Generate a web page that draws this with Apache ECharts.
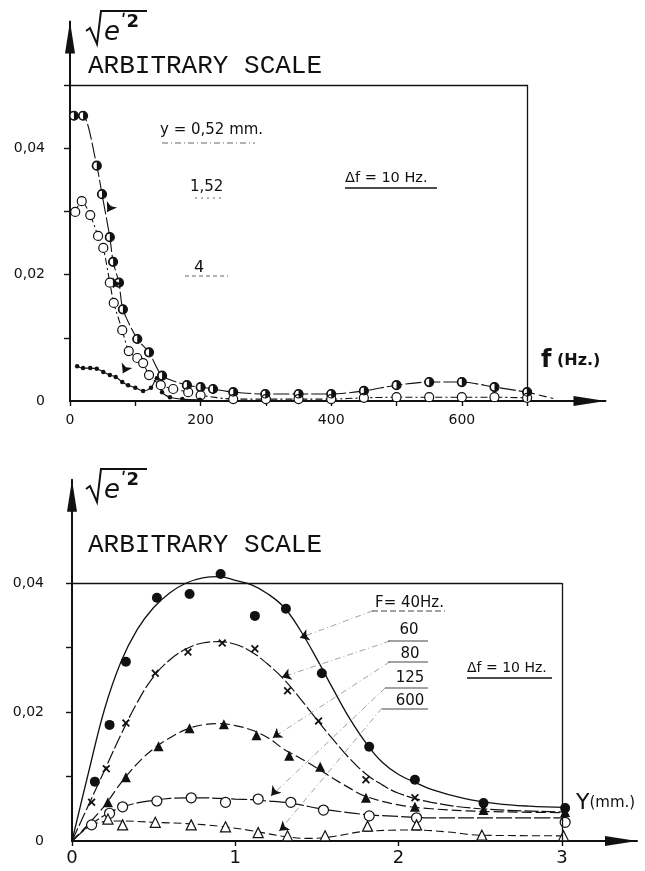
<!DOCTYPE html>
<html>
<head>
<meta charset="utf-8">
<script src="https://cdn.jsdelivr.net/npm/echarts@6/dist/echarts.min.js"></script>
<style>
  html, body { margin: 0; padding: 0; background: #fff; }
  #c { width: 645px; height: 871px; }
</style>
</head>
<body>
<div id="c"></div>
<script>
// ---- Upper plot: spectrum of sqrt(e'^2) versus f (Hz) at three distances y ----
// [f (Hz), amplitude]
const specY052 = [[6,0.0451],[20,0.0451],[41,0.0372],[49,0.0327],[61,0.0259],[66,0.0220],[75,0.0187],[81,0.0145],[103,0.0098],[121,0.0077],[141,0.0040],[179,0.0025],[200,0.0022],[219,0.0019],[250,0.0014],[299,0.0011],[350,0.0011],[400,0.0011],[450,0.0016],[500,0.0025],[550,0.0030],[600,0.0030],[650,0.0022],[700,0.0014]];
const specY052Tail = [[700,0.0014],[740,0.0004]];
const specY152 = [[8,0.0299],[18,0.0316],[31,0.0294],[43,0.0261],[51,0.0242],[61,0.0187],[67,0.0155],[80,0.0112],[90,0.0079],[103,0.0068],[112,0.0060],[121,0.0041],[139,0.0025],[158,0.0019],[181,0.0014],[200,0.0009],[250,0.0003],[300,0.0003],[350,0.0003],[400,0.0003],[450,0.0005],[500,0.0006],[550,0.0006],[600,0.0006],[650,0.0006],[700,0.0005]];
const specY4 = [[11,0.0055],[20,0.0052],[31,0.0052],[41,0.0051],[51,0.0046],[61,0.0041],[70,0.0038],[80,0.0030],[89,0.0025],[100,0.0021],[112,0.0016],[124,0.0021],[133,0.0036],[141,0.0014],[153,0.0006],[172,0.0003],[199,0.0002]];
const fTicks = [0,100,200,300,400,500,600,700];
const fLabels = [0,200,400,600];
const ampTicksTop = [0.01,0.02,0.03,0.04,0.05];
const ampLabels = [0,0.02,0.04];

// ---- Lower plot: sqrt(e'^2) versus Y (mm) for five frequencies ----
// measured points [Y (mm), amplitude]
const ptsF40 = [[0.14,0.0092],[0.23,0.0180],[0.33,0.0278],[0.52,0.0377],[0.72,0.0383],[0.91,0.0414],[1.12,0.0349],[1.31,0.0360],[1.53,0.0260],[1.82,0.0146],[2.10,0.0095],[2.52,0.0059],[3.02,0.0051]];
const ptsF60 = [[0.12,0.0060],[0.21,0.0112],[0.33,0.0183],[0.51,0.0260],[0.71,0.0293],[0.92,0.0307],[1.12,0.0298],[1.32,0.0233],[1.51,0.0186],[1.80,0.0095],[2.10,0.0067],[2.52,0.0050],[3.02,0.0043]];
const ptsF80 = [[0.22,0.0060],[0.33,0.0099],[0.53,0.0147],[0.72,0.0175],[0.93,0.0181],[1.13,0.0164],[1.33,0.0132],[1.52,0.0115],[1.80,0.0067],[2.10,0.0053],[2.52,0.0048],[3.02,0.0045]];
const ptsF125 = [[0.12,0.0025],[0.23,0.0043],[0.31,0.0053],[0.52,0.0062],[0.73,0.0067],[0.94,0.0060],[1.14,0.0065],[1.34,0.0060],[1.54,0.0048],[1.82,0.0039],[2.11,0.0036],[3.02,0.0029]];
const ptsF600 = [[0.22,0.0034],[0.31,0.0025],[0.51,0.0029],[0.73,0.0025],[0.94,0.0022],[1.14,0.0013],[1.32,0.0008],[1.55,0.0008],[1.81,0.0023],[2.11,0.0025],[2.51,0.0009],[3.01,0.0008]];
// faired curves through the points
const curveF40 = [[0,0],[0.1,0.0105],[0.2,0.0205],[0.3,0.0278],[0.4,0.0328],[0.5,0.0362],[0.6,0.0385],[0.7,0.0400],[0.8,0.0408],[0.9,0.0410],[1.0,0.0404],[1.1,0.0397],[1.2,0.0383],[1.3,0.0362],[1.4,0.0326],[1.5,0.0282],[1.6,0.0235],[1.7,0.0190],[1.8,0.0152],[1.9,0.0122],[2.0,0.0103],[2.1,0.0091],[2.2,0.0080],[2.4,0.0066],[2.6,0.0058],[2.8,0.0054],[3.02,0.0052]];
const curveF60 = [[0,0],[0.1,0.0055],[0.2,0.0110],[0.3,0.0165],[0.4,0.0215],[0.5,0.0255],[0.6,0.0281],[0.7,0.0298],[0.8,0.0307],[0.9,0.0309],[1.0,0.0305],[1.1,0.0293],[1.2,0.0274],[1.3,0.0250],[1.4,0.0220],[1.5,0.0188],[1.6,0.0157],[1.7,0.0128],[1.8,0.0104],[1.9,0.0087],[2.0,0.0074],[2.2,0.0060],[2.5,0.0050],[3.02,0.0045]];
const curveF80 = [[0,0],[0.1,0.0026],[0.2,0.0055],[0.3,0.0090],[0.4,0.0120],[0.5,0.0143],[0.6,0.0160],[0.7,0.0173],[0.8,0.0180],[0.9,0.0182],[1.0,0.0179],[1.1,0.0172],[1.2,0.0160],[1.3,0.0142],[1.4,0.0128],[1.5,0.0113],[1.6,0.0097],[1.7,0.0082],[1.8,0.0069],[2.0,0.0056],[2.2,0.0050],[2.5,0.0046],[3.02,0.0044]];
const curveF125 = [[0,0],[0.1,0.0022],[0.2,0.0040],[0.3,0.0052],[0.4,0.0059],[0.5,0.0063],[0.6,0.0066],[0.7,0.0067],[0.8,0.0067],[0.9,0.0066],[1.0,0.0065],[1.1,0.0064],[1.2,0.0062],[1.3,0.0060],[1.4,0.0056],[1.5,0.0051],[1.6,0.0047],[1.8,0.0041],[2.0,0.0038],[2.2,0.0036],[2.5,0.0036],[3.02,0.0036]];
const curveF600 = [[0,0],[0.1,0.0022],[0.2,0.0030],[0.3,0.0031],[0.5,0.0029],[0.7,0.0027],[0.9,0.0023],[1.1,0.0016],[1.3,0.0007],[1.45,0.0004],[1.6,0.0007],[1.8,0.0015],[2.1,0.0017],[2.3,0.0014],[2.5,0.0009],[3.02,0.0008]];
const yTicks = [0,1,2,3];
const ampTicksBottom = [0.01,0.02,0.03,0.04];

// annotation pointers [from, to] in data units
const arrowsTop = [[[63,0.0309],[57,0.0299]],[[72,0.0189],[66,0.0179]],[[85,0.0052],[81,0.0044]]];
const leadersBottom = [[[1.843,0.0357],[1.396,0.0315]],[[1.947,0.0310],[1.286,0.0254]],[[1.947,0.0278],[1.23,0.0160]],[[1.917,0.0237],[1.22,0.0070]],[[1.898,0.0206],[1.27,0.0016]]];
const arrowHeadsBottom = [[[1.44,0.0319],[1.396,0.0315]],[[1.33,0.0258],[1.286,0.0254]],[[1.27,0.0167],[1.23,0.0160]],[[1.25,0.0079],[1.22,0.0070]],[[1.30,0.0022],[1.27,0.0016]]];

const INK = '#111';
const fmtAmp = v => v === 0 ? '0' : v.toFixed(2).replace('.', ',');

// circle with its right half blackened (ring + half disc; the left half is a hole)
const halfDisc = 'path://M0 -10 A10 10 0 1 1 0 10 A10 10 0 1 1 0 -10 Z M0 -7.6 A7.6 7.6 0 0 0 0 7.6 Z';
const boldCross = 'path://M-5 -3.4 L-3.4 -5 L0 -1.6 L3.4 -5 L5 -3.4 L1.6 0 L5 3.4 L3.4 5 L0 1.6 L-3.4 5 L-5 3.4 L-1.6 0 Z';

function axisLine() {
  return { show: true, onZero: false, lineStyle: { color: INK, width: 2 },
           symbol: ['none', 'triangle'], symbolSize: [10, 32], symbolOffset: [0, -16] };
}
const tickStyle = { color: INK, width: 1.4 };
const labelFont = { color: INK, fontFamily: 'DejaVu Sans' };

function segs(list) {
  return list.map(p => [{ coord: p[0] }, { coord: p[1] }]);
}
function heads(list) {
  return { silent: true, symbol: ['none', 'arrow'], symbolSize: 9, label: { show: false },
    lineStyle: { color: INK, width: 1, type: 'solid', opacity: 1 }, data: segs(list) };
}

const option = {
  animation: false,
  backgroundColor: '#fff',
  grid: [
    { left: 70, top: 21.5, width: 535.5, height: 379.5 },
    { left: 72, top: 479.8, width: 565, height: 361.2 }
  ],
  xAxis: [
    { gridIndex: 0, type: 'value', min: 0, max: 820, axisLine: axisLine(),
      splitLine: { show: false },
      axisTick: { show: true, customValues: fTicks, length: 5, lineStyle: tickStyle },
      axisLabel: Object.assign({ customValues: fLabels, margin: 12, fontSize: 14 }, labelFont) },
    { gridIndex: 1, type: 'value', min: 0, max: 3.46, axisLine: axisLine(),
      splitLine: { show: false },
      axisTick: { show: true, customValues: yTicks, length: 5, lineStyle: tickStyle },
      axisLabel: Object.assign({ customValues: yTicks, margin: 8, fontSize: 18 }, labelFont) }
  ],
  yAxis: [
    { gridIndex: 0, type: 'value', min: 0, max: 0.06, axisLine: axisLine(),
      splitLine: { show: false },
      axisTick: { show: true, customValues: ampTicksTop, length: 6, lineStyle: tickStyle },
      axisLabel: Object.assign({ customValues: ampLabels, margin: 25, fontSize: 14, formatter: fmtAmp }, labelFont) },
    { gridIndex: 1, type: 'value', min: 0, max: 0.056, axisLine: axisLine(),
      splitLine: { show: false },
      axisTick: { show: true, customValues: ampTicksBottom, length: 6, lineStyle: tickStyle },
      axisLabel: Object.assign({ customValues: ampLabels, margin: 28, fontSize: 14, formatter: fmtAmp }, labelFont) }
  ],
  series: [
    // ---- upper plot ----
    { name: 'y = 0,52', type: 'line', xAxisIndex: 0, yAxisIndex: 0, data: specY052, smooth: 0.25,
      symbol: 'circle', symbolSize: 9, z: 3,
      lineStyle: { color: INK, width: 1.1, type: [16, 3] },
      itemStyle: { color: '#fff', borderColor: INK, borderWidth: 1.2 },
      markLine: { silent: true, symbol: ['none', 'none'], label: { show: false },
        lineStyle: { color: INK, width: 1.3, type: 'solid' },
        data: [[{ coord: [0, 0.05] }, { coord: [700, 0.05] }], [{ coord: [700, 0.05] }, { coord: [700, 0] }]] } },
    { name: 'y = 0,52 fill', type: 'scatter', xAxisIndex: 0, yAxisIndex: 0, data: specY052,
      symbol: halfDisc, symbolSize: 9, z: 4, silent: true, itemStyle: { color: INK, opacity: 1 } },
    { name: 'y = 0,52 tail', type: 'line', xAxisIndex: 0, yAxisIndex: 0, data: specY052Tail,
      symbol: 'none', lineStyle: { color: INK, width: 1.1, type: [8, 4] }, z: 2 },
    { name: 'y = 1,52', type: 'line', xAxisIndex: 0, yAxisIndex: 0, data: specY152, smooth: 0.25,
      symbol: 'circle', symbolSize: 9, z: 3,
      lineStyle: { color: INK, width: 1.1, type: [7, 3, 2, 3] },
      itemStyle: { color: '#fff', borderColor: INK, borderWidth: 1.2 },
      markLine: heads(arrowsTop) },
    { name: 'y = 4', type: 'line', xAxisIndex: 0, yAxisIndex: 0, data: specY4, smooth: 0.3,
      symbol: 'circle', symbolSize: 4.5, z: 3,
      lineStyle: { color: INK, width: 1.1 }, itemStyle: { color: INK } },

    // ---- lower plot ----
    { name: 'F 40', type: 'line', xAxisIndex: 1, yAxisIndex: 1, data: curveF40, smooth: 0.4,
      symbol: 'none', lineStyle: { color: INK, width: 1.3 }, z: 2,
      markLine: { silent: true, symbol: ['none', 'none'], label: { show: false },
        lineStyle: { color: '#8a8a8a', width: 0.8, type: [6, 3, 1, 3] },
        data: segs(leadersBottom) } },
    { name: 'F 60', type: 'line', xAxisIndex: 1, yAxisIndex: 1, data: curveF60, smooth: 0.4,
      symbol: 'none', lineStyle: { color: INK, width: 1.2, type: [14, 3] }, z: 2,
      markLine: { silent: true, symbol: ['none', 'none'], label: { show: false },
        lineStyle: { color: INK, width: 1.3, type: 'solid' },
        data: [[{ coord: [0, 0.04] }, { coord: [3, 0.04] }], [{ coord: [3, 0.04] }, { coord: [3, 0] }]] } },
    { name: 'F 80', type: 'line', xAxisIndex: 1, yAxisIndex: 1, data: curveF80, smooth: 0.4,
      symbol: 'none', lineStyle: { color: INK, width: 1.2, type: [10, 4] }, z: 2,
      markLine: heads(arrowHeadsBottom) },
    { name: 'F 125', type: 'line', xAxisIndex: 1, yAxisIndex: 1, data: curveF125, smooth: 0.4,
      symbol: 'none', lineStyle: { color: INK, width: 1.2, type: [16, 3] }, z: 2 },
    { name: 'F 600', type: 'line', xAxisIndex: 1, yAxisIndex: 1, data: curveF600, smooth: 0.4,
      symbol: 'none', lineStyle: { color: INK, width: 1.1, type: [8, 4] }, z: 2 },
    { name: 'F 40 pts', type: 'scatter', xAxisIndex: 1, yAxisIndex: 1, data: ptsF40,
      symbol: 'circle', symbolSize: 10, itemStyle: { color: INK, opacity: 1 }, z: 4 },
    { name: 'F 60 pts', type: 'scatter', xAxisIndex: 1, yAxisIndex: 1, data: ptsF60,
      symbol: boldCross, symbolSize: 8, itemStyle: { color: INK, opacity: 1 }, z: 4 },
    { name: 'F 80 pts', type: 'scatter', xAxisIndex: 1, yAxisIndex: 1, data: ptsF80,
      symbol: 'triangle', symbolSize: 10, itemStyle: { color: INK, opacity: 1 }, z: 4 },
    { name: 'F 125 pts', type: 'scatter', xAxisIndex: 1, yAxisIndex: 1, data: ptsF125,
      symbol: 'circle', symbolSize: 10, itemStyle: { color: '#fff', borderColor: INK, borderWidth: 1.2, opacity: 1 }, z: 4 },
    { name: 'F 600 pts', type: 'scatter', xAxisIndex: 1, yAxisIndex: 1, data: ptsF600,
      symbol: 'triangle', symbolSize: 10, itemStyle: { color: '#fff', borderColor: INK, borderWidth: 1.2, opacity: 1 }, z: 4 }
  ],
  graphic: []
};

// text, radicals and underlines around the two plots
function txt(x, y, text, font, align, extra) {
  return Object.assign({ type: 'text', x: x, y: y, z: 10, silent: true,
    style: { text: text, font: font, fill: INK, align: align || 'left', verticalAlign: 'middle' } }, extra || {});
}
function rule(x1, y1, x2, y2, dash, w, color) {
  return { type: 'line', z: 10, silent: true, shape: { x1: x1, y1: y1, x2: x2, y2: y2 },
    style: { stroke: color || INK, lineWidth: w || 1, lineDash: dash || null } };
}
function radical(dy) {
  return [
    { type: 'polyline', z: 10, silent: true,
      shape: { points: [[86, 31 + dy], [90, 28 + dy], [97, 44 + dy], [101, 11 + dy], [147, 11 + dy]] },
      style: { stroke: INK, lineWidth: 2, fill: null } },
    txt(104, 33 + dy, 'e', 'italic 26px "DejaVu Sans"'),
    txt(121, 22 + dy, '\u02b92', 'bold 18px "DejaVu Sans"')
  ];
}
const mono = '26px "Liberation Mono"';
const hand = '15px "DejaVu Sans"';
option.graphic = [].concat(
  radical(0), radical(458),
  [
    txt(88, 66, 'ARBITRARY SCALE', mono),
    txt(88, 545, 'ARBITRARY SCALE', mono),
    // upper plot legend
    txt(160, 130, 'y = 0,52 mm.', hand),
    rule(162, 143, 255, 143, [6, 3, 1, 3], 1, '#666'),
    txt(190, 187, '1,52', hand),
    rule(195, 198, 225, 198, [2, 4], 1, '#666'),
    txt(194, 268, '4', '16px "DejaVu Sans"'),
    rule(185, 276, 228, 276, [4, 3], 1, '#666'),
    txt(345, 178, '\u0394f = 10 Hz.', '14.5px "DejaVu Sans"'),
    rule(345, 188, 437, 188, null, 1.6),
    txt(541, 361, '{a|f}{b| (Hz.)}', hand, 'left', { style: { text: '{a|f}{b| (Hz.)}', fill: INK, align: 'left', verticalAlign: 'middle',
      rich: { a: { font: 'bold 24px "DejaVu Sans"', fill: INK }, b: { font: 'bold 16px "DejaVu Sans"', fill: INK } } } }),
    // lower plot legend
    txt(375, 603, 'F= 40Hz.', hand),
    rule(372, 611, 445, 611, [6, 3], 1, '#444'),
    txt(409, 630, '60', hand, 'center'),
    rule(388, 641, 428, 641, null, 1, '#444'),
    txt(410, 654, '80', hand, 'center'),
    rule(388, 662, 428, 662, null, 1, '#444'),
    txt(410, 678, '125', hand, 'center'),
    rule(385, 688, 428, 688, null, 1, '#444'),
    txt(410, 701, '600', hand, 'center'),
    rule(382, 709, 428, 709, null, 1, '#444'),
    txt(467, 668, '\u0394f = 10 Hz.', '14px "DejaVu Sans"'),
    rule(467, 678, 552, 678, null, 1.6),
    txt(576, 803, '{a|Y}{b|(mm.)}', hand, 'left', { style: { text: '{a|Y}{b|(mm.)}', fill: INK, align: 'left', verticalAlign: 'middle',
      rich: { a: { font: '22px "DejaVu Sans"', fill: INK }, b: { font: '15px "DejaVu Sans"', fill: INK } } } })
  ]
);

const chart = echarts.init(document.getElementById('c'), null, { renderer: 'canvas' });
chart.setOption(option);
</script>
</body>
</html>
